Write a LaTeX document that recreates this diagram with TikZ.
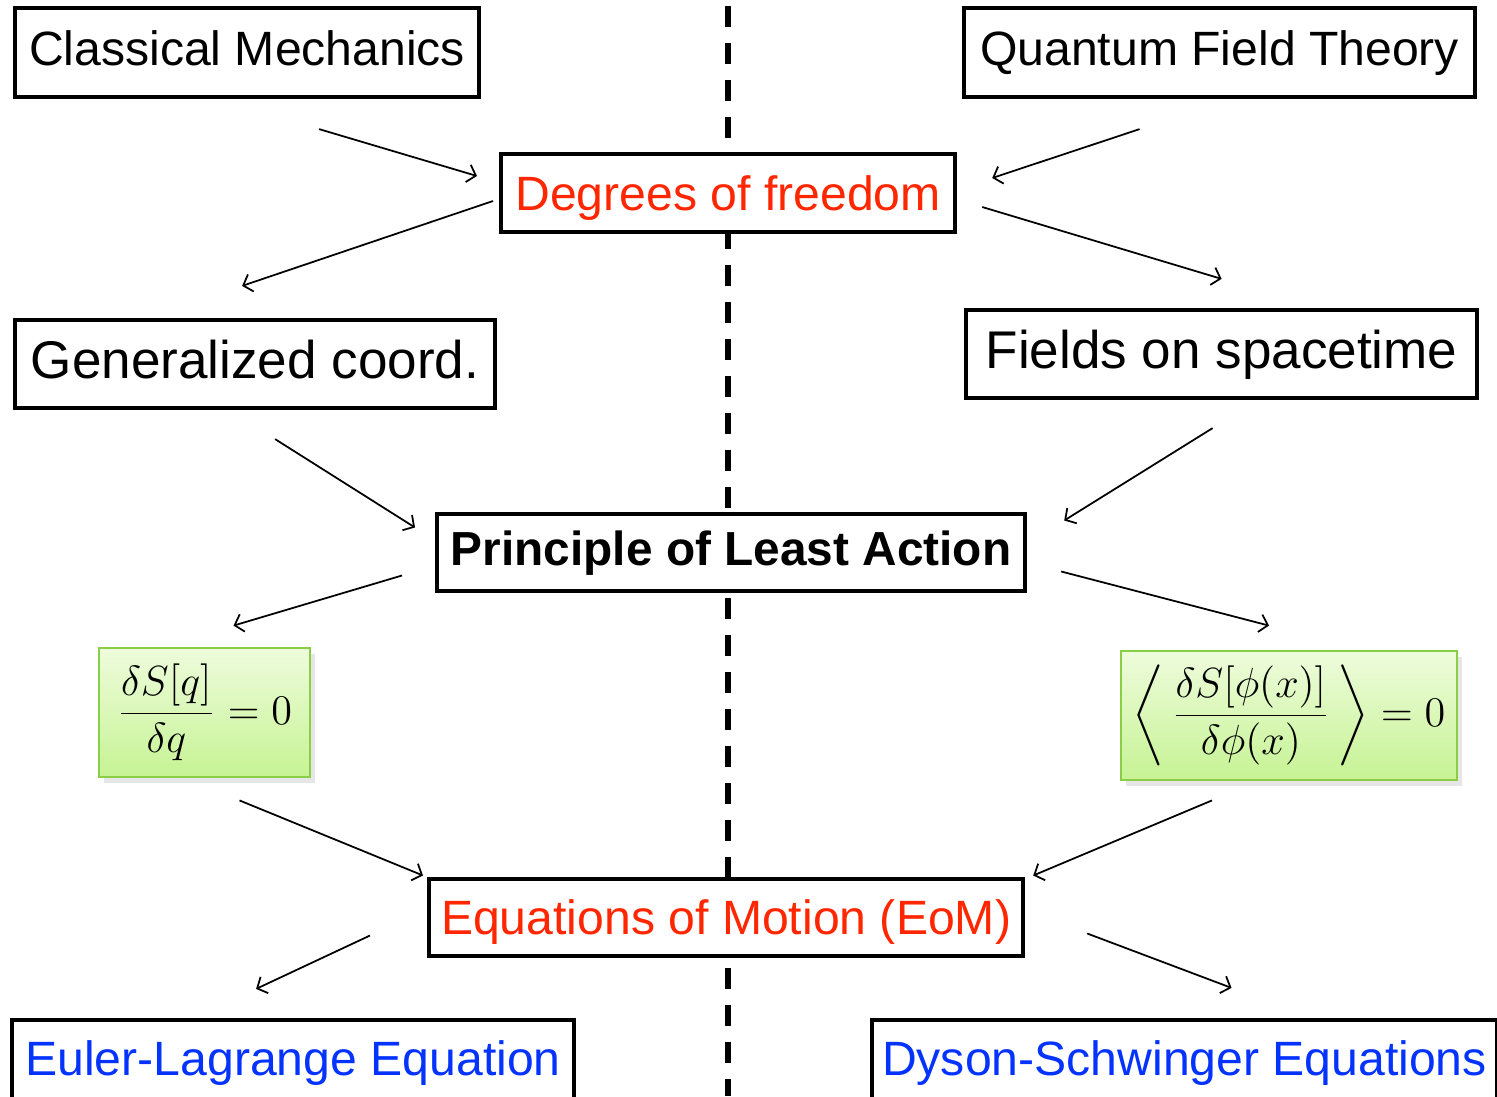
\documentclass[tikz,border=0pt]{standalone}
\usepackage{amsmath}
\usepackage{fontspec}
\newfontfamily\arialfont{Liberation Sans}
\usetikzlibrary{arrows.meta,shadows}
\definecolor{keyred}{RGB}{255,38,0}
\definecolor{keyblue}{RGB}{4,51,255}
\definecolor{eqtop}{RGB}{238,252,220}
\definecolor{eqbot}{RGB}{198,243,148}
\definecolor{eqframe}{RGB}{140,205,70}
\begin{document}
\begin{tikzpicture}[
    box/.style={draw,line width=1.2pt,fill=white,anchor=west,inner xsep=0.1cm,
      text height=9.9pt,text depth=2.3pt,
      font=\arialfont\fontsize{13.7}{16}\selectfont},
    bigbox/.style={box,text height=10.9pt,text depth=2.6pt,
      font=\arialfont\fontsize{15.1}{18}\selectfont},
    midbox/.style={box,text depth=0pt},
    eqbox/.style={draw=eqframe,line width=0.8pt,top color=eqtop,bottom color=eqbot,
      drop shadow={shadow xshift=0.5mm,shadow yshift=-0.6mm,opacity=0.2},
      font=\fontsize{12}{14}\selectfont},
    arr/.style={line width=0.5pt,-{Straight Barb[length=0.8mm,width=1.8mm]}}
  ]
  \useasboundingbox (0,0) rectangle (14.97,-10.96);
  \clip (0,0) rectangle (14.97,-10.96);
  \draw[line width=1.5pt,dash pattern=on 0.21cm off 0.16cm] (7.28,-0.06)--(7.28,-10.96);

  \node[box,minimum width=4.64cm,minimum height=0.89cm] (cm)  at (0.13,-0.525) {Classical Mechanics};
  \node[box,minimum width=5.11cm,minimum height=0.89cm] (qft) at (9.62,-0.525) {Quantum Field Theory};
  \node[midbox,minimum width=4.54cm,minimum height=0.78cm,text=keyred] (dof) at (4.99,-1.93) {Degrees of freedom};
  \node[bigbox,minimum width=4.80cm,minimum height=0.88cm] (gc)  at (0.13,-3.64) {Generalized coord.};
  \node[bigbox,minimum width=5.11cm,minimum height=0.88cm] (fos) at (9.64,-3.54) {Fields on spacetime};
  \node[box,minimum width=5.88cm,minimum height=0.77cm,font=\arialfont\bfseries\fontsize{13.6}{16}\selectfont] (pla) at (4.35,-5.525) {Principle of Least Action};
  \node[eqbox,minimum width=2.11cm,minimum height=1.29cm] (eqq) at (2.045,-7.125)
    {$\displaystyle\frac{\delta S[q]}{\delta q}=0$};
  \node[eqbox,minimum width=3.36cm,minimum height=1.29cm] (eqphi) at (12.89,-7.155)
    {$\displaystyle\left\langle\,\frac{\delta S[\phi(x)]}{\delta\phi(x)}\,\right\rangle=0$};
  \node[midbox,minimum width=5.94cm,minimum height=0.77cm,text=keyred] (eom) at (4.27,-9.175) {Equations of Motion (EoM)};
  \node[box,minimum width=5.62cm,minimum height=0.84cm,text=keyblue] (el) at (0.10,-10.62) {Euler-Lagrange Equation};
  \node[box,minimum height=0.84cm,text=keyblue] (ds) at (8.70,-10.62) {Dyson-Schwinger Equations};

  \draw[arr] ([shift={(0.72,-0.30)}]cm.south) -- ([shift={(-0.22,0.17)}]dof.west);
  \draw[arr] ([shift={(-0.80,-0.30)}]qft.south) -- ([shift={(0.35,0.15)}]dof.east);
  \draw[arr] ([shift={(-0.06,-0.08)}]dof.west) -- ([shift={(-0.13,0.32)}]gc.north);
  \draw[arr] ([shift={(0.25,-0.14)}]dof.east) -- ([shift={(0,0.29)}]fos.north);
  \draw[arr] ([shift={(0.20,-0.29)}]gc.south) -- ([shift={(-0.20,0.25)}]pla.west);
  \draw[arr] ([shift={(-0.09,-0.28)}]fos.south) -- ([shift={(0.37,0.32)}]pla.east);
  \draw[arr] ([shift={(-0.33,-0.23)}]pla.west) -- ([shift={(0.29,0.21)}]eqq.north);
  \draw[arr] ([shift={(0.34,-0.19)}]pla.east) -- ([shift={(-0.20,0.24)}]eqphi.north);
  \draw[arr] ([shift={(0.35,-0.22)}]eqq.south) -- ([shift={(-0.04,0.42)}]eom.west);
  \draw[arr] ([shift={(-0.77,-0.19)}]eqphi.south) -- ([shift={(0.08,0.42)}]eom.east);
  \draw[arr] ([shift={(-0.57,-0.18)}]eom.west) -- ([shift={(-0.37,0.29)}]el.north);
  \draw[arr] ([shift={(0.62,-0.16)}]eom.east) -- ([shift={(0.47,0.30)}]ds.north);
\end{tikzpicture}
\end{document}
